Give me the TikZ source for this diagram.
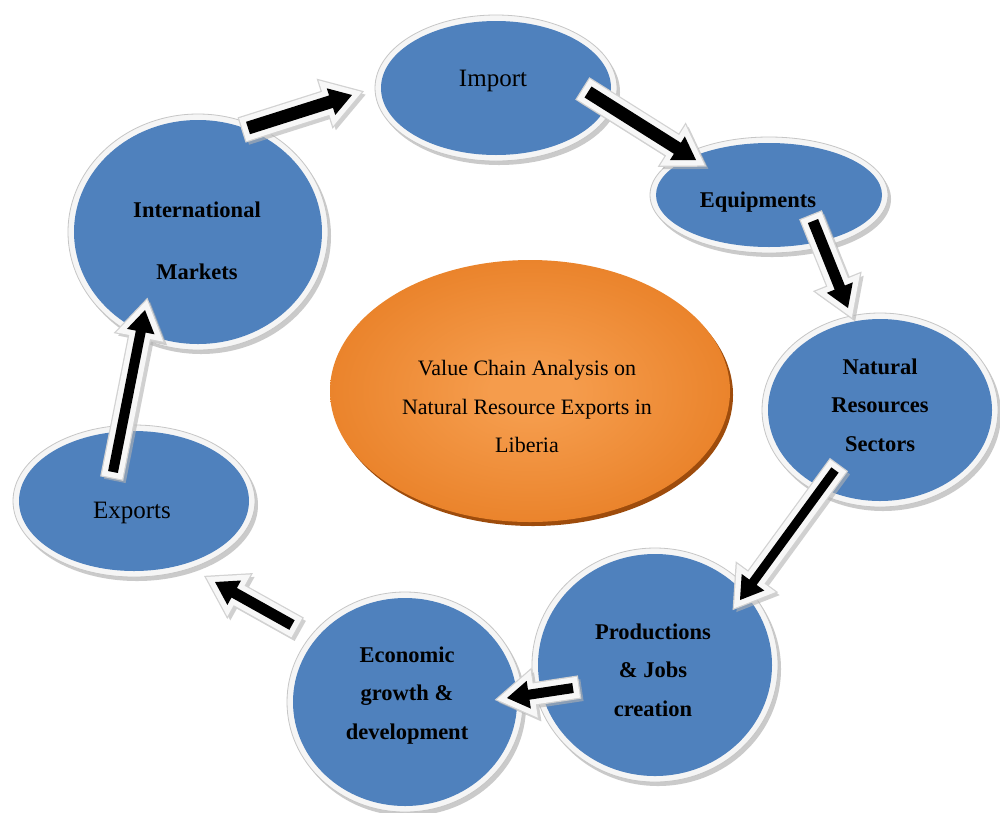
\documentclass[tikz,border=0pt]{standalone}
\usepackage{fontspec}
\setmainfont{Liberation Serif}
\usetikzlibrary{shapes.geometric,shadows}

\definecolor{bubbleblue}{HTML}{4F81BD}
\definecolor{orlight}{HTML}{F59C4C}
\definecolor{ordark}{HTML}{DF6A0A}
\definecolor{orshadow}{HTML}{9E4C0C}
\pgfdeclareradialshading{orangeglow}{\pgfpoint{0bp}{0bp}}{color(0bp)=(orlight); color(5bp)=(orlight); color(46bp)=(ordark); color(70bp)=(ordark)}

% ring-framed blue ellipse: name, centre, outer x radius, outer y radius
\newcommand\bubble[4]{%
  \node[bubble, minimum width=#3pt*2, minimum height=#4pt*2] (#1) at (#2) {};
  \pgfmathsetmacro\bubinx{#3-6}\pgfmathsetmacro\bubiny{#4-6}%
  \fill[bubbleblue] (#1.center) ellipse [x radius=\bubinx pt, y radius=\bubiny pt];}

% framed block arrow between two named points: [shaft half width]{tail}{tip}
\newcommand\flowarrow[3][6]{%
  \path (#2); \pgfgetlastxy{\tailx}{\taily}%
  \path (#3); \pgfgetlastxy{\tipx}{\tipy}%
  \pgfmathsetmacro\arrang{atan2(\tipy-\taily,\tipx-\tailx)}%
  \pgfmathsetmacro\arrlen{veclen(\tipx-\tailx,\tipy-\taily)}%
  \pgfmathsetmacro\arrneck{\arrlen-22}%
  \def\arrshape{(0pt,-#1pt) -- (\arrneck pt,-#1pt) -- (\arrneck pt,-14pt) -- (\arrlen pt,0pt)
    -- (\arrneck pt,14pt) -- (\arrneck pt,#1pt) -- (0pt,#1pt) -- cycle}%
  \begin{scope}[shift={(\tailx+3pt,\taily-3pt)},rotate=\arrang]
    \filldraw[arrshadow] \arrshape;
  \end{scope}
  \begin{scope}[shift={(\tailx,\taily)},rotate=\arrang]
    \filldraw[arrrim] \arrshape;
    \filldraw[arrwhite] \arrshape;
    \fill[black] \arrshape;
  \end{scope}}

\begin{document}
\begin{tikzpicture}[x=1pt,y=-1pt,
  bubble/.style={ellipse, inner sep=0pt, outer sep=0pt, fill=white!96!black, draw=gray!45, line width=0.8pt,
    drop shadow={shadow xshift=3pt, shadow yshift=-4pt, fill=gray!75, opacity=0.55}},
  core/.style={ellipse, inner sep=0pt, shade, shading=orangeglow,
    drop shadow={shadow xshift=3pt, shadow yshift=-4pt, fill=orshadow, opacity=1}},
  arrshadow/.style={fill=gray!60, draw=gray!60, line width=12pt, line join=miter, opacity=0.6},
  arrrim/.style={fill=gray!35, draw=gray!35, line width=13.5pt, line join=miter},
  arrwhite/.style={fill=white!97!black, draw=white!97!black, line width=11pt, line join=miter},
  boldlbl/.style={align=center, inner sep=0pt, font=\fontsize{22.5}{38.5}\selectfont\bfseries},
  plainlbl/.style={align=center, inner sep=0pt, font=\fontsize{25}{30}\selectfont},
  corelbl/.style={align=center, inner sep=0pt, font=\fontsize{22}{38.5}\selectfont}]

\fill[white] (0,0) rectangle (1000,812);
\useasboundingbox (0,0) rectangle (1000,812);

% outer ring of stages
\bubble{imp}{496,88}{121}{73}
\bubble{equ}{769,195}{119}{58}
\bubble{nat}{880,410}{118}{97}
\bubble{pro}{655,665}{123}{117}
\bubble{eco}{405,702}{118}{110}
\bubble{exp}{134,501}{121}{76}
\bubble{intl}{198,232}{130}{118}

% central theme
\node[core, minimum width=400pt, minimum height=262pt] (core) at (530,391) {};

% stage labels
\node[plainlbl] (timp) at (493,80.5) {Import};
\node[boldlbl] (tequ) at (758,202.5) {Equipments};
\node[boldlbl] (tnat) at (880,405) {Natural\\Resources\\Sectors};
\node[boldlbl] (tpro) at (653,670) {Productions\\\& Jobs\\creation};
\node[boldlbl] (teco) at (407,695.5) {Economic\\growth \&\\development};
\node[plainlbl] (texp) at (132,512.5) {Exports};
\node[boldlbl, font=\fontsize{22.5}{62}\selectfont\bfseries] (tintl) at (197,241) {International\\Markets};
\node[corelbl] (tcore) at (527,406.5) {Value Chain Analysis on\\Natural Resource Exports in\\Liberia};

% arrow ends
\coordinate (a1s) at (248,128);  \coordinate (a1e) at (352,95);
\coordinate (a2s) at (588,92);   \coordinate (a2e) at (696,160);
\coordinate (a3s) at (813,221);  \coordinate (a3e) at (848,308);
\coordinate (a4s) at (835,470);  \coordinate (a4e) at (740,600);
\coordinate (a5s) at (573,688);  \coordinate (a5e) at (507,698);
\coordinate (a6s) at (292,625);  \coordinate (a6e) at (215,582);
\coordinate (a7s) at (113,472);  \coordinate (a7e) at (145,310);

% cycle arrows
\flowarrow[6.5]{a1s}{a1e}
\flowarrow[6.5]{a2s}{a2e}
\flowarrow[5.5]{a3s}{a3e}
\flowarrow[4.5]{a4s}{a4e}
\flowarrow[5]{a5s}{a5e}
\flowarrow[5.5]{a6s}{a6e}
\flowarrow[5]{a7s}{a7e}
\end{tikzpicture}
\end{document}
